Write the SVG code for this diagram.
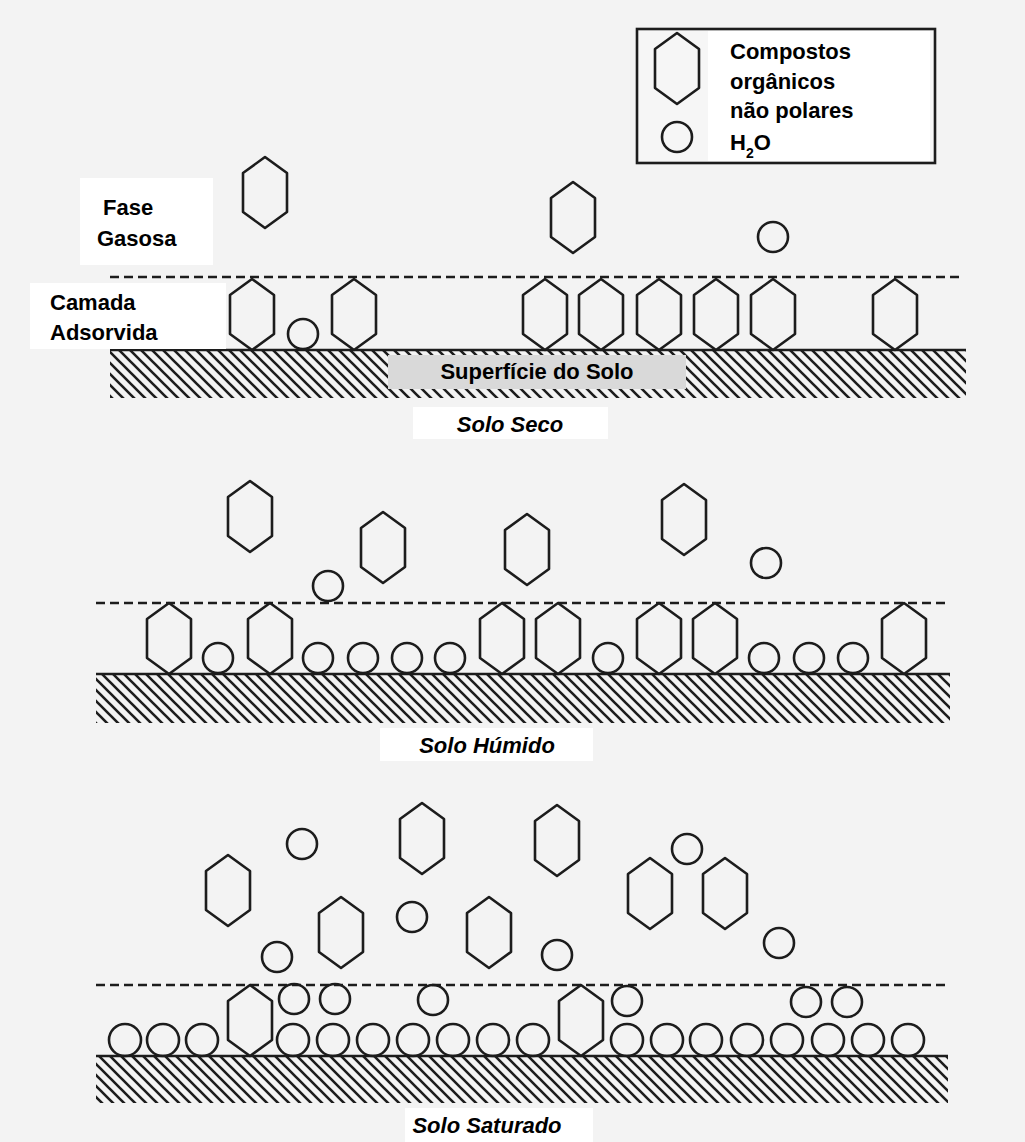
<svg xmlns="http://www.w3.org/2000/svg" xmlns:xlink="http://www.w3.org/1999/xlink" width="1025" height="1142" viewBox="0 0 1025 1142">
<style>
.m{fill:none;stroke:#1c1c1c;stroke-width:2.6;stroke-linejoin:round}
.dash{stroke:#1c1c1c;stroke-width:2.6;stroke-dasharray:9 5;fill:none}
.gnd{stroke:#1c1c1c;stroke-width:2.6;fill:none}
.lbl{font-family:"Liberation Sans",Arial,sans-serif;font-weight:bold;font-size:22px;fill:#000}
.it{font-style:italic}
</style>
<defs>
<polygon id="hex" points="22,0 44,16 44,55 22,71 0,55 0,16" class="m"/>
<pattern id="hatch" patternUnits="userSpaceOnUse" width="11" height="11">
<path d="M-2,-2 L13,13 M-2,9 L2,13 M9,-2 L13,2" stroke="#1c1c1c" stroke-width="2.6" fill="none"/>
</pattern>
</defs>
<rect width="1025" height="1142" fill="#f3f3f3"/>

<g id="legend">
<rect x="637" y="29" width="298" height="134" fill="#f6f6f6" stroke="#1c1c1c" stroke-width="2.6"/>
<rect x="708" y="31" width="222" height="130" fill="#ffffff"/>
<use xlink:href="#hex" x="655" y="33"/>
<circle cx="677" cy="137" r="15" class="m"/>
<text class="lbl" x="730" y="59" font-size="21">Compostos</text>
<text class="lbl" x="730" y="89" font-size="21">orgânicos</text>
<text class="lbl" x="730" y="118" font-size="21">não polares</text>
<text class="lbl" x="730" y="150" font-size="21">H<tspan font-size="14" dy="8">2</tspan><tspan dy="-8">O</tspan></text>
</g>

<g id="solo-seco">
<rect x="110" y="350" width="856" height="48" fill="url(#hatch)"/>
<line class="gnd" x1="110" y1="350" x2="966" y2="350"/>
<line class="dash" x1="110" y1="277" x2="962" y2="277"/>
<use xlink:href="#hex" x="243" y="157"/>
<use xlink:href="#hex" x="551" y="182"/>
<circle cx="773" cy="237" r="15" class="m"/>
<use xlink:href="#hex" x="230" y="279"/>
<use xlink:href="#hex" x="332" y="279"/>
<use xlink:href="#hex" x="523" y="279"/>
<use xlink:href="#hex" x="579" y="279"/>
<use xlink:href="#hex" x="637" y="279"/>
<use xlink:href="#hex" x="694" y="279"/>
<use xlink:href="#hex" x="751" y="279"/>
<use xlink:href="#hex" x="873" y="279"/>
<circle cx="303" cy="334" r="15" class="m"/>
<rect x="80" y="178" width="133" height="87" fill="#ffffff"/>
<text class="lbl" x="103" y="215">Fase</text>
<text class="lbl" x="97" y="246">Gasosa</text>
<rect x="30" y="283" width="196" height="66" fill="#ffffff"/>
<text class="lbl" x="50" y="310">Camada</text>
<text class="lbl" x="50" y="340">Adsorvida</text>
<rect x="388" y="355" width="298" height="34" fill="#d9d9d9"/>
<text class="lbl" x="537" y="379" text-anchor="middle">Superfície do Solo</text>
<rect x="413" y="407" width="195" height="32" fill="#ffffff"/>
<text class="lbl it" x="510" y="432" text-anchor="middle">Solo Seco</text>
</g>

<g id="solo-humido">
<rect x="96" y="674" width="854" height="49" fill="url(#hatch)"/>
<line class="gnd" x1="96" y1="674" x2="950" y2="674"/>
<line class="dash" x1="96" y1="603" x2="947" y2="603"/>
<use xlink:href="#hex" x="228" y="481"/>
<use xlink:href="#hex" x="361" y="512"/>
<use xlink:href="#hex" x="505" y="514"/>
<use xlink:href="#hex" x="662" y="484"/>
<circle cx="328" cy="586" r="15" class="m"/>
<circle cx="766" cy="563" r="15" class="m"/>
<use xlink:href="#hex" x="147" y="603"/>
<use xlink:href="#hex" x="248" y="603"/>
<use xlink:href="#hex" x="480" y="603"/>
<use xlink:href="#hex" x="536" y="603"/>
<use xlink:href="#hex" x="637" y="603"/>
<use xlink:href="#hex" x="693" y="603"/>
<use xlink:href="#hex" x="882" y="603"/>
<circle cx="218" cy="658" r="15" class="m"/>
<circle cx="318" cy="658" r="15" class="m"/>
<circle cx="363" cy="658" r="15" class="m"/>
<circle cx="407" cy="658" r="15" class="m"/>
<circle cx="450" cy="658" r="15" class="m"/>
<circle cx="608" cy="658" r="15" class="m"/>
<circle cx="764" cy="658" r="15" class="m"/>
<circle cx="809" cy="658" r="15" class="m"/>
<circle cx="853" cy="658" r="15" class="m"/>
<rect x="380" y="728" width="213" height="33" fill="#ffffff"/>
<text class="lbl it" x="487" y="753" text-anchor="middle">Solo Húmido</text>
</g>

<g id="solo-saturado">
<rect x="96" y="1056" width="852" height="47" fill="url(#hatch)"/>
<line class="gnd" x1="96" y1="1056" x2="948" y2="1056"/>
<line class="dash" x1="96" y1="985" x2="947" y2="985"/>
<use xlink:href="#hex" x="206" y="855"/>
<use xlink:href="#hex" x="400" y="803"/>
<use xlink:href="#hex" x="319" y="897"/>
<use xlink:href="#hex" x="467" y="897"/>
<use xlink:href="#hex" x="535" y="805"/>
<use xlink:href="#hex" x="628" y="858"/>
<use xlink:href="#hex" x="703" y="858"/>
<circle cx="302" cy="844" r="15" class="m"/>
<circle cx="412" cy="917" r="15" class="m"/>
<circle cx="277" cy="957" r="15" class="m"/>
<circle cx="687" cy="849" r="15" class="m"/>
<circle cx="779" cy="943" r="15" class="m"/>
<circle cx="557" cy="955" r="15" class="m"/>
<use xlink:href="#hex" x="228" y="985"/>
<use xlink:href="#hex" x="559" y="985"/>
<circle cx="294" cy="999" r="15" class="m"/>
<circle cx="335" cy="999" r="15" class="m"/>
<circle cx="433" cy="1000" r="15" class="m"/>
<circle cx="627" cy="1001" r="15" class="m"/>
<circle cx="806" cy="1002" r="15" class="m"/>
<circle cx="847" cy="1002" r="15" class="m"/>
<g class="m">
<circle cx="125" cy="1040" r="16"/><circle cx="163" cy="1040" r="16"/><circle cx="202" cy="1040" r="16"/>
<circle cx="293" cy="1040" r="16"/><circle cx="333" cy="1040" r="16"/><circle cx="373" cy="1040" r="16"/>
<circle cx="413" cy="1040" r="16"/><circle cx="453" cy="1040" r="16"/><circle cx="493" cy="1040" r="16"/>
<circle cx="533" cy="1040" r="16"/><circle cx="627" cy="1040" r="16"/><circle cx="667" cy="1040" r="16"/>
<circle cx="706" cy="1040" r="16"/><circle cx="747" cy="1040" r="16"/><circle cx="787" cy="1040" r="16"/>
<circle cx="828" cy="1040" r="16"/><circle cx="868" cy="1040" r="16"/><circle cx="908" cy="1040" r="16"/>
</g>
<rect x="405" y="1108" width="188" height="34" fill="#ffffff"/>
<text class="lbl it" x="487" y="1133" text-anchor="middle">Solo Saturado</text>
</g>
</svg>
